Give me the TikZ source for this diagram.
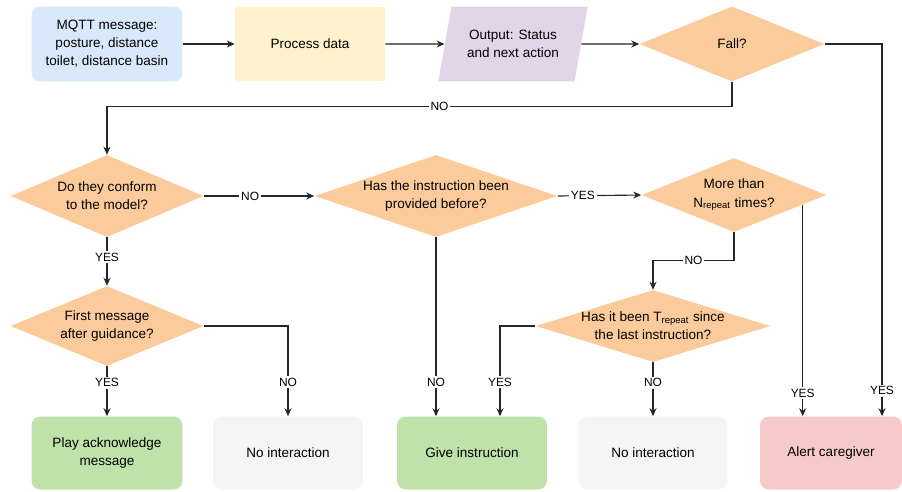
\documentclass[tikz,border=0pt]{standalone}
\usepackage{fontspec}
\setmainfont{Liberation Sans}
\usepackage{tikz}
\usetikzlibrary{arrows.meta,shapes.geometric,calc}

\definecolor{inblue}{HTML}{DAE8FC}
\definecolor{procyellow}{HTML}{FFF2CC}
\definecolor{outpurple}{HTML}{E1D5E7}
\definecolor{askorange}{HTML}{FCCB9C}
\definecolor{okgreen}{HTML}{BEE2A9}
\definecolor{idlegray}{HTML}{F5F5F5}
\definecolor{alertred}{HTML}{F6CACA}

\begin{document}
\begin{tikzpicture}[x=0.02cm, y=-0.02cm,
    box/.style={rectangle, align=center, inner sep=2pt,
      font=\fontsize{7.7}{10.3}\selectfont},
    endbox/.style={box, rounded corners=5pt, minimum height=1.46cm},
    decision/.style={diamond, fill=askorange, align=center,
      inner xsep=-45pt, inner ysep=-9pt,
      font=\fontsize{7.7}{10.3}\selectfont},
    flow/.style={draw=black!85, line width=0.65pt,
      -{Stealth[length=4.5pt,width=4pt]}},
    lbl/.style={fill=white, inner sep=1pt,
      font=\fontsize{6.8}{7.5}\selectfont}
  ]
\useasboundingbox (0,0) rectangle (902,491);

% top row
\node[box, fill=inblue, rounded corners=5pt, minimum width=3.02cm, minimum height=1.5cm]
  (msg) at (107,44) {MQTT message:\\posture, distance\\toilet, distance basin};
\node[box, fill=procyellow, minimum width=3cm, minimum height=1.5cm]
  (proc) at (310,44) {Process data};
\node[box, trapezium, trapezium left angle=73, trapezium right angle=107,
  trapezium stretches=true, fill=outpurple, minimum width=3cm, minimum height=1.5cm]
  (out) at (513,44) {Output: Status\\and next action};
\node[decision, minimum width=3.7cm, minimum height=1.5cm] (fall) at (732,44) {Fall?};

% decisions
\node[decision, minimum width=3.86cm, minimum height=1.64cm] (conf) at (107,196)
  {Do they conform\\to the model?};
\node[decision, minimum width=4.86cm, minimum height=1.64cm] (prov) at (436,196)
  {Has the instruction been\\provided before?};
\node[decision, minimum width=3.7cm, minimum height=1.48cm] (more) at (734,195)
  {More than\\N\textsubscript{repeat} times?};
\node[decision, minimum width=3.86cm, minimum height=1.6cm] (first) at (107,326)
  {First message\\after guidance?};
\node[decision, minimum width=4.7cm, minimum height=1.44cm] (since) at (653,326)
  {Has it been T\textsubscript{repeat} since\\the last instruction?};

% outcomes
\node[endbox, fill=okgreen, minimum width=3.02cm] (play) at (107,453)
  {Play acknowledge\\message};
\node[endbox, fill=idlegray, minimum width=3cm] (noint1) at (288,453) {No interaction};
\node[endbox, fill=okgreen, minimum width=3cm] (give) at (472,453) {Give instruction};
\node[endbox, fill=idlegray, minimum width=2.98cm] (noint2) at (653,453) {No interaction};
\node[endbox, fill=alertred, minimum width=2.84cm] (alert) at (831,453) {Alert caregiver};

\coordinate (mrep) at ($(more.east)!0.26!(more.south)$);

% connectors
\draw[flow] (msg) -- (proc);
\draw[flow] (proc) -- (out);
\draw[flow] (out) -- (fall);
\draw[flow] (fall.east) -| node[lbl, pos=0.966]{YES} ($(alert.north)+(51,0)$);
\draw[flow] (fall.south) -- ++(0,25) -| node[lbl, pos=0.234]{NO} (conf.north);
\draw[flow] (conf.east) -- node[lbl, pos=0.42]{NO} (prov.west);
\draw[flow] (prov.east) -- node[lbl, pos=0.3]{YES} (more.west);
\draw[flow] (more.south) -- ++(0,28) -| node[lbl, pos=0.25]{NO} (since.north);
\draw[flow] (mrep) -- node[lbl, pos=0.89]{YES} (mrep |- alert.north);
\draw[flow] (conf.south) -- node[lbl, pos=0.41]{YES} (first.north);
\draw[flow] (first.east) -| node[lbl, pos=0.81]{NO} (noint1.north);
\draw[flow] (first.south) -- node[lbl, pos=0.33]{YES} (play.north);
\draw[flow] (prov.south) -- node[lbl, pos=0.81]{NO} (prov.south |- give.north);
\draw[flow] (since.west) -| node[lbl, pos=0.81]{YES} ($(give.north)+(28,0)$);
\draw[flow] (since.south) -- node[lbl, pos=0.38]{NO} (noint2.north);
\end{tikzpicture}
\end{document}
